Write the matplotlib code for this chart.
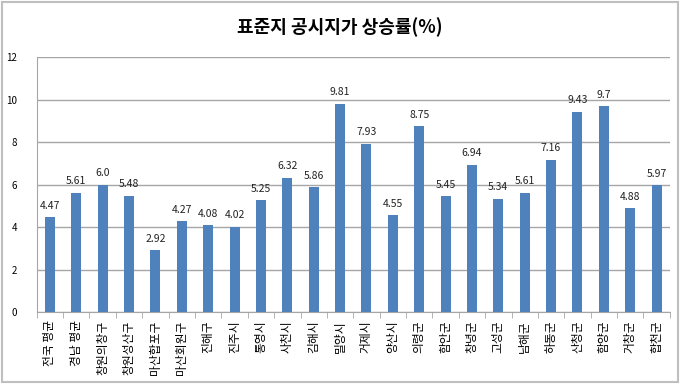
import matplotlib
matplotlib.use("Agg")
import matplotlib.pyplot as plt
from matplotlib.patches import Rectangle
import numpy as np

plt.rcParams['font.family'] = ['Noto Sans CJK KR', 'DejaVu Sans']

categories = ["전국 평균", "경남 평균", "창원의창구", "창원성산구", "마산합포구", "마산회원구",
              "진해구", "진주시", "통영시", "사천시", "김해시", "밀양시", "거제시", "양산시",
              "의령군", "함안군", "창녕군", "고성군", "남해군", "하동군", "산청군", "함양군",
              "거창군", "합천군"]
values = [4.47, 5.61, 6.0, 5.48, 2.92, 4.27, 4.08, 4.02, 5.25, 6.32, 5.86, 9.81, 7.93, 4.55,
          8.75, 5.45, 6.94, 5.34, 5.61, 7.16, 9.43, 9.7, 4.88, 5.97]
value_labels = ["4.47", "5.61", "6.0", "5.48", "2.92", "4.27", "4.08", "4.02", "5.25", "6.32",
                "5.86", "9.81", "7.93", "4.55", "8.75", "5.45", "6.94", "5.34", "5.61", "7.16",
                "9.43", "9.7", "4.88", "5.97"]
yticks = [0, 2, 4, 6, 8, 10, 12]
title = "표준지 공시지가 상승률(%)"

fig = plt.figure(figsize=(6.8, 3.84), dpi=100)
ax = fig.add_axes([0.054, 0.1875, 0.931, 0.664])
x = np.arange(len(categories))
bars = ax.bar(x, values, width=0.38, color='#4F81BD', zorder=3)
for xi, v, lab in zip(x, values, value_labels):
    ax.text(xi, v + 0.3, lab, ha='center', va='bottom', fontsize=7.5, color='#222222')

ax.set_xlim(-0.5, len(categories) - 0.5)
ax.set_ylim(0, 12)
ax.set_yticks(yticks)
ax.set_yticklabels([str(t) for t in yticks], fontsize=7)
ax.tick_params(axis='y', length=0, pad=14)
ax.yaxis.grid(True, color='#A6A6A6', linewidth=1, zorder=0)
ax.set_xticks(x)
ax.set_xticklabels(categories, rotation=90, fontsize=8.5, va='top')
ax.tick_params(axis='x', length=0, pad=6)
ax.set_xticks(np.arange(-0.5, len(categories)), minor=True)
ax.tick_params(axis='x', which='minor', length=4, color='#A6A6A6')
for s in ['top', 'right']:
    ax.spines[s].set_visible(False)
for s in ['left', 'bottom']:
    ax.spines[s].set_color('#A6A6A6')

fig.text(0.5, 0.928, title, ha='center', va='center', fontsize=13, fontweight='bold')
fig.patches.append(Rectangle((0.003, 0.005), 0.994, 0.99, transform=fig.transFigure,
                             fill=False, edgecolor='#BFBFBF', linewidth=1.5))
fig.savefig("out.png", dpi=100)
